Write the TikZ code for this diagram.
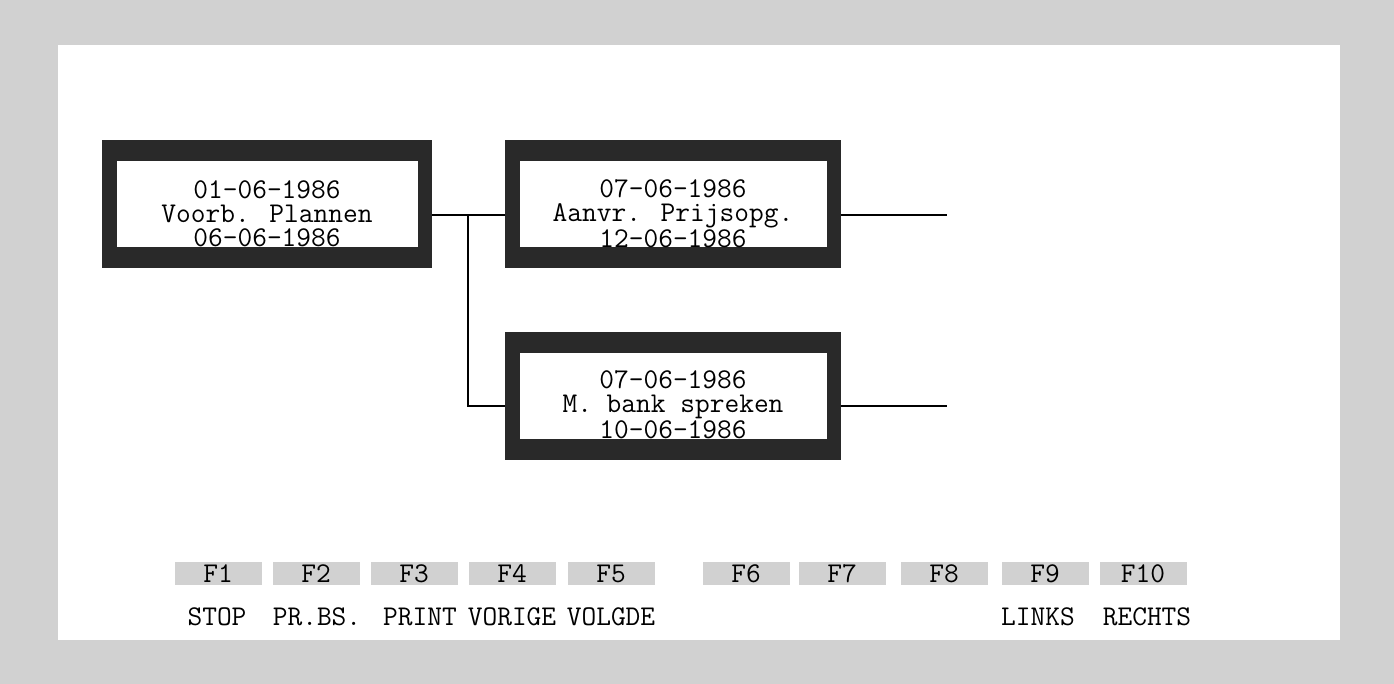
\documentclass[tikz,border=0pt]{standalone}
\usetikzlibrary{positioning}
\definecolor{rastergrijs}{gray}{0.82}
\definecolor{kaderzwart}{gray}{0.16}
\newcommand{\schermfont}{\fontsize{14.3}{12}\selectfont\ttfamily}

\begin{document}
\begin{tikzpicture}[x=0.5pt,y=-0.5pt,
    rand/.style={fill=kaderzwart, minimum width=168pt, minimum height=64pt, inner sep=0pt},
    vlak/.style={fill=white, minimum width=153.5pt, minimum height=43pt, inner sep=0pt},
    taak/.style={align=center, inner sep=0pt, font=\schermfont},
    toets/.style={fill=rastergrijs, minimum width=43.5pt, minimum height=11.5pt, inner sep=0pt, font=\schermfont},
    uitleg/.style={inner sep=0pt, font=\schermfont},
    lijn/.style={line width=0.9pt}]
  \useasboundingbox (0,0) rectangle (1394,684);
  % scherm met gerasterde rand
  \fill[rastergrijs] (0,0) rectangle (1394,684);
  \fill[white] (58,45) rectangle (1340,640);

  % taken
  \node[rand, minimum width=165pt] (plan) at (267,204) {};
  \node[vlak, minimum width=150.5pt] (planvlak) at (plan) {};
  \node[taak] (plantekst) at (267,214) {01-06-1986\\Voorb. Plannen\\06-06-1986};

  \node[rand] (aanvr) at (673,204) {};
  \node[vlak] (aanvrvlak) at (aanvr) {};
  \node[taak] (aanvrtekst) at (673,214) {07-06-1986\\Aanvr. Prijsopg.\\12-06-1986};

  \node[rand] (bank) at (673,396) {};
  \node[vlak] (bankvlak) at (bank) {};
  \node[taak] (banktekst) at (673,405) {07-06-1986\\M. bank spreken\\10-06-1986};

  % verbindingen
  \coordinate (splits) at (468,215);
  \coordinate (eind1) at (947,215);
  \coordinate (eind2) at (947,406);
  \draw[lijn] (plan.east |- splits) -- (aanvr.west |- splits);
  \draw[lijn] (splits) |- (bank.west |- eind2);
  \draw[lijn] (aanvr.east |- eind1) -- (eind1);
  \draw[lijn] (bank.east |- eind2) -- (eind2);

  % functietoetsen
  \foreach \x/\n in {218/F1, 316/F2, 414/F3, 512/F4, 611/F5, 746/F6, 842/F7, 944/F8, 1045/F9, 1143/F10}
    \node[toets] (toets\n) at (\x,573.5) {\n};
  \foreach \x/\t/\n in {217/STOP/stop, 317/PR.BS./prbs, 420/PRINT/print, 512/VORIGE/vorige, 611/VOLGDE/volgde, 1038/LINKS/links, 1147/RECHTS/rechts}
    \node[uitleg] (\n) at (\x,617) {\t};
\end{tikzpicture}
\end{document}
